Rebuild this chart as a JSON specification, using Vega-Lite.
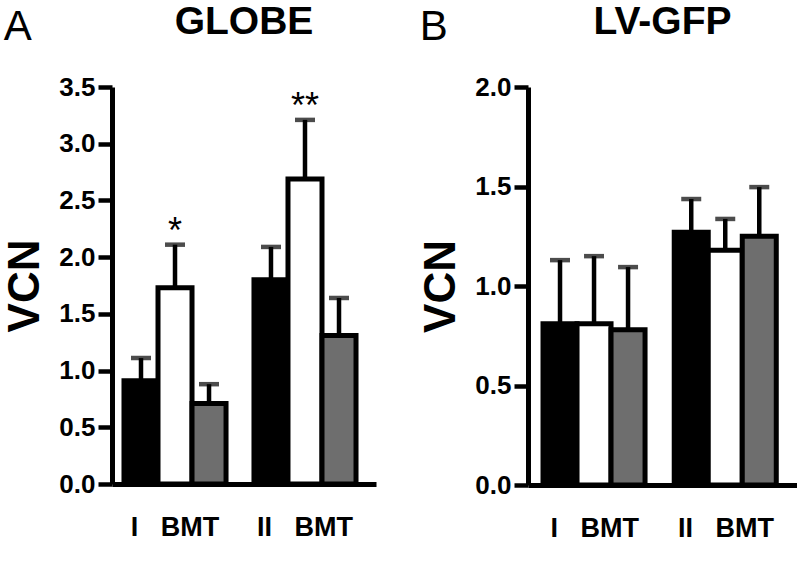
{
  "$schema": "https://vega.github.io/schema/vega-lite/v6.json",
  "background": "white",
  "padding": {"left": 3, "top": 3, "right": 0, "bottom": 0},
  "spacing": 43,
  "config": {
    "view": {"stroke": null},
    "font": "Liberation Sans",
    "axis": {"domainColor": "black", "tickColor": "black", "labelColor": "black", "titleColor": "black", "grid": false, "labelFont": "Liberation Sans", "titleFont": "Liberation Sans", "labelFontWeight": "bold", "titleFontWeight": "bold"}
  },
  "hconcat": [
    {
      "title": {"text": "A", "anchor": "start", "frame": "bounds", "fontSize": 42, "fontWeight": "normal", "font": "Liberation Sans", "color": "black", "offset": -46},
      "vconcat": [
        {
          "title": {"text": "GLOBE", "fontSize": 39, "fontWeight": "bold", "font": "Liberation Sans", "color": "black", "anchor": "middle", "frame": "group", "offset": 32},
          "width": 264,
          "height": 397,
          "data": {"values": [
            {"group": "I\u00a0\u00a0\u00a0BMT", "cond": "c1", "value": 0.91, "err": 1.11, "sig": ""},
            {"group": "I\u00a0\u00a0\u00a0BMT", "cond": "c2", "value": 1.73, "err": 2.11, "sig": "*"},
            {"group": "I\u00a0\u00a0\u00a0BMT", "cond": "c3", "value": 0.71, "err": 0.88, "sig": ""},
            {"group": "II\u00a0\u00a0\u00a0BMT", "cond": "c1", "value": 1.80, "err": 2.09, "sig": ""},
            {"group": "II\u00a0\u00a0\u00a0BMT", "cond": "c2", "value": 2.69, "err": 3.21, "sig": "**"},
            {"group": "II\u00a0\u00a0\u00a0BMT", "cond": "c3", "value": 1.31, "err": 1.64, "sig": ""}
          ]},
          "encoding": {
            "x": {"field": "group", "type": "nominal", "sort": null, "title": null, "scale": {"paddingInner": 0.215, "paddingOuter": 0.123, "align": 0.375},
                  "axis": {"domainWidth": 5, "domainColor": "black", "ticks": false, "tickSize": 0, "labelFontSize": 27, "labelFontWeight": "bold", "labelColor": "black", "labelPadding": 30, "labelAngle": 0}},
            "xOffset": {"field": "cond", "type": "nominal", "sort": ["c1", "c2", "c3"], "scale": {"paddingInner": 0, "paddingOuter": 0}}
          },
          "layer": [
            {
              "mark": {"type": "bar", "stroke": "black", "strokeWidth": 5},
              "encoding": {
                "y": {"field": "value", "type": "quantitative", "scale": {"domain": [0, 3.5]},
                      "axis": {"title": "VCN", "values": [0, 0.5, 1, 1.5, 2, 2.5, 3, 3.5], "format": ".1f", "domainWidth": 5, "domainColor": "black", "tickWidth": 4.5, "tickSize": 14, "tickColor": "black", "labelFontSize": 26, "labelFontWeight": "bold", "labelColor": "black", "labelPadding": 3, "titleFontSize": 44, "titleFontWeight": "bold", "titleColor": "black", "titlePadding": 11}},
                "fill": {"field": "cond", "type": "nominal", "scale": {"domain": ["c1", "c2", "c3"], "range": ["#000000", "#ffffff", "#6e6e6e"]}, "legend": null}
              }
            },
            {
              "mark": {"type": "rule", "strokeWidth": 4.5, "color": "black"},
              "encoding": {"y": {"field": "value", "type": "quantitative", "axis": {"title": "VCN"}}, "y2": {"field": "err"}}
            },
            {
              "mark": {"type": "tick", "orient": "horizontal", "size": 20, "thickness": 4.5, "color": "black"},
              "encoding": {"y": {"field": "err", "type": "quantitative", "axis": {"title": "VCN"}}}
            },
            {
              "mark": {"type": "text", "fontSize": 36, "font": "Liberation Sans", "color": "black", "baseline": "alphabetic", "dy": -2},
              "encoding": {"y": {"field": "err", "type": "quantitative", "axis": {"title": "VCN"}}, "text": {"field": "sig"}}
            }
          ]
        }
      ]
    },
    {
      "title": {"text": "B", "anchor": "start", "frame": "bounds", "fontSize": 42, "fontWeight": "normal", "font": "Liberation Sans", "color": "black", "offset": -46},
      "vconcat": [
        {
          "title": {"text": "LV-GFP", "fontSize": 39, "fontWeight": "bold", "font": "Liberation Sans", "color": "black", "anchor": "middle", "frame": "group", "offset": 32},
          "width": 269,
          "height": 398,
          "data": {"values": [
            {"group": "I\u00a0\u00a0\u00a0BMT", "cond": "c1", "value": 0.81, "err": 1.13},
            {"group": "I\u00a0\u00a0\u00a0BMT", "cond": "c2", "value": 0.81, "err": 1.15},
            {"group": "I\u00a0\u00a0\u00a0BMT", "cond": "c3", "value": 0.78, "err": 1.095},
            {"group": "II\u00a0\u00a0\u00a0BMT", "cond": "c1", "value": 1.27, "err": 1.437},
            {"group": "II\u00a0\u00a0\u00a0BMT", "cond": "c2", "value": 1.18, "err": 1.337},
            {"group": "II\u00a0\u00a0\u00a0BMT", "cond": "c3", "value": 1.25, "err": 1.497}
          ]},
          "encoding": {
            "x": {"field": "group", "type": "nominal", "sort": null, "title": null, "scale": {"paddingInner": 0.21, "paddingOuter": 0.13, "align": 0.44},
                  "axis": {"domainWidth": 5, "domainColor": "black", "ticks": false, "tickSize": 0, "labelFontSize": 27, "labelFontWeight": "bold", "labelColor": "black", "labelPadding": 30, "labelAngle": 0}},
            "xOffset": {"field": "cond", "type": "nominal", "sort": ["c1", "c2", "c3"], "scale": {"paddingInner": 0, "paddingOuter": 0}}
          },
          "layer": [
            {
              "mark": {"type": "bar", "stroke": "black", "strokeWidth": 5},
              "encoding": {
                "y": {"field": "value", "type": "quantitative", "scale": {"domain": [0, 2]},
                      "axis": {"title": "VCN", "values": [0, 0.5, 1, 1.5, 2], "format": ".1f", "domainWidth": 5, "domainColor": "black", "tickWidth": 4.5, "tickSize": 14, "tickColor": "black", "labelFontSize": 26, "labelFontWeight": "bold", "labelColor": "black", "labelPadding": 3, "titleFontSize": 44, "titleFontWeight": "bold", "titleColor": "black", "titlePadding": 11}},
                "fill": {"field": "cond", "type": "nominal", "scale": {"domain": ["c1", "c2", "c3"], "range": ["#000000", "#ffffff", "#6e6e6e"]}, "legend": null}
              }
            },
            {
              "mark": {"type": "rule", "strokeWidth": 4.5, "color": "black"},
              "encoding": {"y": {"field": "value", "type": "quantitative", "axis": {"title": "VCN"}}, "y2": {"field": "err"}}
            },
            {
              "mark": {"type": "tick", "orient": "horizontal", "size": 20, "thickness": 4.5, "color": "black"},
              "encoding": {"y": {"field": "err", "type": "quantitative", "axis": {"title": "VCN"}}}
            }
          ]
        }
      ]
    }
  ]
}
